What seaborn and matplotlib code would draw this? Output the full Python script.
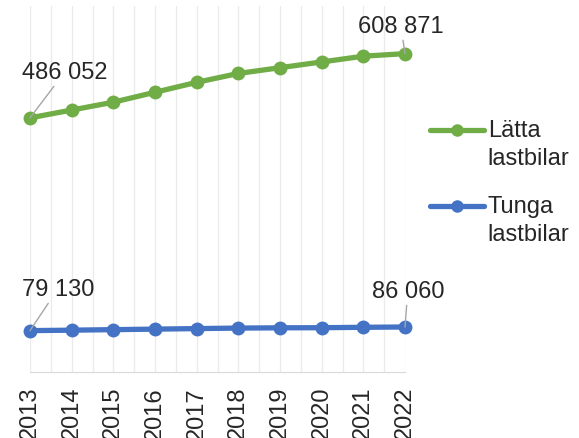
import matplotlib
matplotlib.use("Agg")
import matplotlib.pyplot as plt
from matplotlib.ticker import MultipleLocator
from matplotlib.transforms import Affine2D
import seaborn as sns
import pandas as pd

years = [2013, 2014, 2015, 2016, 2017, 2018, 2019, 2020, 2021, 2022]
latta = [486052, 501000, 516000, 535000, 554000, 571000, 582000, 593000, 604000, 608871]
tunga = [79130, 80000, 81000, 82000, 83000, 84000, 84500, 84700, 85500, 86060]
series_names = ["Lätta\nlastbilar", "Tunga\nlastbilar"]
colors = ["#70AD47", "#4472C4"]

df = pd.DataFrame({
    "year": years * 2,
    "value": latta + tunga,
    "serie": [series_names[0]] * len(years) + [series_names[1]] * len(years),
})

sns.set_style("white")
plt.rcParams["font.family"] = ["Liberation Sans", "DejaVu Sans"]

fig = plt.figure(figsize=(5.79, 4.39), dpi=100)
ax = fig.add_axes([30 / 579, 1 - 373 / 439, 375 / 579, 366 / 439])

sns.lineplot(data=df, x="year", y="value", hue="serie", palette=colors,
             marker="o", markersize=10, markeredgewidth=0, linewidth=3.8,
             ax=ax, clip_on=False)

ax.set_xlim(2013, 2022)
ax.set_ylim(0, 700000)
ax.set_xticks(years)
ax.set_xticklabels([str(y) for y in years], rotation=90, fontsize=17)
ax.xaxis.set_minor_locator(MultipleLocator(0.5))
ax.grid(True, which="both", axis="x", color="#EBEBEB", linewidth=1)
ax.set_yticks([])
ax.set_xlabel("")
ax.set_ylabel("")
ax.tick_params(axis="x", which="both", length=0, pad=10)
for s in ["top", "left", "right"]:
    ax.spines[s].set_visible(False)
ax.spines["bottom"].set_color("#D9D9D9")
for line in ax.lines:
    line.set_clip_on(False)

def label(x, y, text, dx, dy):
    ax.annotate(text, xy=(x, y), xytext=(dx, dy), textcoords="offset points",
                fontsize=17, ha="center", va="bottom",
                arrowprops=dict(arrowstyle="-", color="#A6A6A6", lw=1,
                                shrinkA=0, shrinkB=0))

label(years[0], latta[0], "486 052", 25, 25)
label(years[-1], latta[-1], "608 871", -3, 12)
label(years[0], tunga[0], "79 130", 20, 22)
label(years[-1], tunga[-1], "86 060", 2, 18)

leg = ax.legend(loc="center left", bbox_to_anchor=(1.01, 0.52), frameon=False,
                fontsize=17, handlelength=2.3, handletextpad=0.15,
                labelspacing=1.1)
for t in leg.get_texts():
    t.set_linespacing(1.35)
for h in leg.legend_handles:
    h.set_linewidth(3.8)
    h.set_markersize(9)
    # handle sits on the first text line, like in the original
    h.set_transform(h.get_transform() + Affine2D().translate(0, 14))

fig.savefig("out.png", dpi=100)
